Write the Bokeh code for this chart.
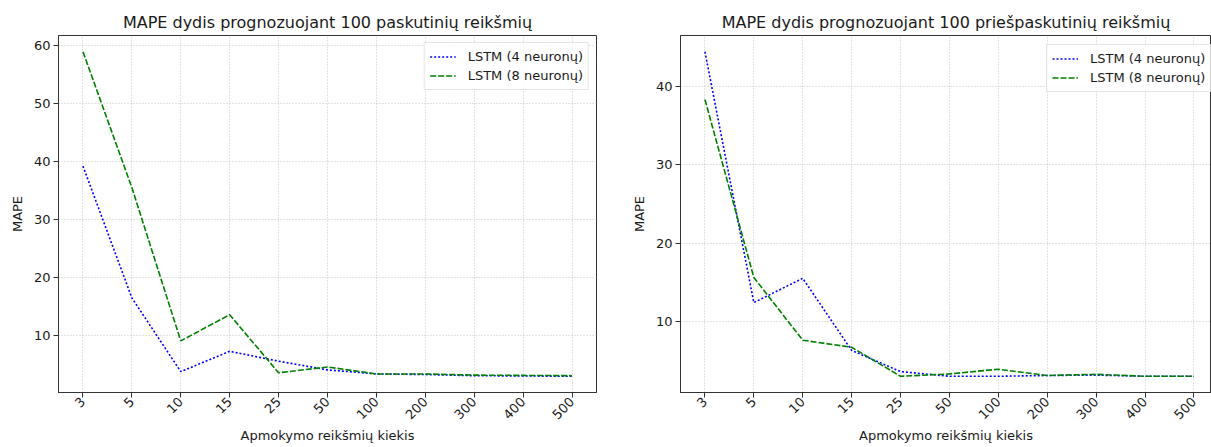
import math
from bokeh.plotting import figure
from bokeh.layouts import row
from bokeh.models import (Range1d, FixedTicker, SingleIntervalTicker, Legend, LegendItem,
                          ColumnDataSource, Title)
from bokeh.embed import file_html
from bokeh.resources import INLINE

categories = ["3", "5", "10", "15", "25", "50", "100", "200", "300", "400", "500"]

left_lstm4 = [39.2, 16.5, 3.8, 7.3, 5.6, 4.1, 3.4, 3.3, 3.1, 3.05, 3.0]
left_lstm8 = [58.9, 35.5, 9.1, 13.6, 3.6, 4.6, 3.4, 3.4, 3.2, 3.15, 3.1]

right_lstm4 = [44.4, 12.4, 15.5, 6.3, 3.6, 3.0, 3.0, 3.1, 3.15, 3.0, 3.0]
right_lstm8 = [38.3, 15.6, 7.6, 6.7, 3.0, 3.3, 3.9, 3.1, 3.25, 3.0, 3.0]

titles = ["MAPE dydis prognozuojant 100 paskutinių reikšmių",
          "MAPE dydis prognozuojant 100 priešpaskutinių reikšmių"]
series_labels = ["LSTM (4 neuronų)", "LSTM (8 neuronų)"]
x_label = "Apmokymo reikšmių kiekis"
y_label = "MAPE"

FONT = "DejaVu Sans"
TXT = "#1a1a1a"


def make_plot(title, s4, s8, width, x_end, border_left, border_right, legend_loc):
    idx = list(range(len(categories)))
    lo = min(s4 + s8)
    hi = max(s4 + s8)
    span = hi - lo
    p = figure(width=width, height=447, output_backend="svg", toolbar_location=None,
               x_range=Range1d(-0.5, x_end), y_range=Range1d(lo - 0.05 * span, hi + 0.05 * span),
               min_border_left=border_left, min_border_right=border_right,
               min_border_top=35, min_border_bottom=55)
    p.title = Title(text=title, align="center", text_font=FONT, text_font_size="16px",
                    text_font_style="normal", text_color=TXT, standoff=8)
    src = ColumnDataSource(dict(x=idx, a=s4, b=s8))
    r4 = p.line("x", "a", source=src, line_color="blue", line_width=1.6, line_dash="2 2")
    r8 = p.line("x", "b", source=src, line_color="green", line_width=1.6, line_dash="6 2")

    p.xaxis.ticker = FixedTicker(ticks=idx)
    p.xaxis.major_label_overrides = {i: c for i, c in enumerate(categories)}
    p.xaxis.major_label_orientation = math.pi / 4
    p.yaxis.ticker = SingleIntervalTicker(interval=10)
    for ax in (p.xaxis[0], p.yaxis[0]):
        ax.major_label_text_font = FONT
        ax.major_label_text_font_size = "13px"
        ax.major_label_text_color = TXT
        ax.axis_label_text_font = FONT
        ax.axis_label_text_font_size = "13px"
        ax.axis_label_text_font_style = "normal"
        ax.axis_label_text_color = TXT
        ax.major_tick_out = 5
        ax.major_tick_in = 0
        ax.minor_tick_line_color = None
        ax.major_tick_line_color = "#333333"
        ax.axis_line_color = "#333333"
    p.xaxis.major_label_standoff = 2
    p.xaxis.axis_label_standoff = 2
    p.yaxis.major_label_standoff = 3
    p.yaxis.axis_label_standoff = 6
    p.xaxis.axis_label = x_label
    p.yaxis.axis_label = y_label

    p.grid.grid_line_color = "#b8b8b8"
    p.grid.grid_line_dash = "1 2"
    p.grid.grid_line_width = 0.8
    p.outline_line_color = "#333333"
    p.outline_line_width = 1

    legend = Legend(items=[LegendItem(label=series_labels[0], renderers=[r4]),
                           LegendItem(label=series_labels[1], renderers=[r8])],
                    location=legend_loc)
    legend.label_text_font = FONT
    legend.label_text_font_size = "13px"
    legend.label_text_color = TXT
    legend.glyph_width = 26
    legend.glyph_height = 17
    legend.label_height = 17
    legend.label_standoff = 12
    legend.spacing = 2
    legend.padding = 5
    legend.margin = 7
    legend.border_line_color = "#cccccc"
    legend.border_line_width = 1
    legend.background_fill_alpha = 0.8
    p.add_layout(legend)
    return p


p1 = make_plot(titles[0], left_lstm4, left_lstm8, 610, 10.5, 58, 14, "top_right")
p2 = make_plot(titles[1], right_lstm4, right_lstm8, 601, 10.36, 70, 0, (366, 300))

layout = row(p1, p2)
open("out.html", "w").write(file_html(layout, INLINE))
